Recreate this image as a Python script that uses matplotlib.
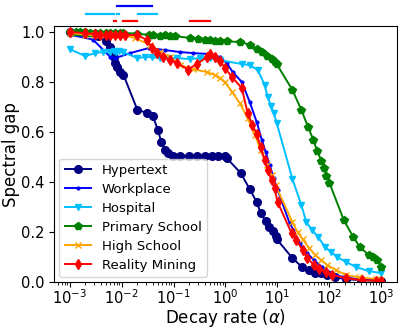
import matplotlib
matplotlib.use('Agg')
import matplotlib.pyplot as plt
import numpy as np

# spectral gap vs decay rate, one curve per dataset
hyper_x = [0.001, 0.002, 0.0035, 0.005, 0.0061, 0.007, 0.0076, 0.0083, 0.0095, 0.0108, 0.02, 0.031, 0.04, 0.05,
           0.058, 0.069, 0.079, 0.098, 0.134, 0.2, 0.28, 0.4, 0.55, 0.71, 0.97, 1.06, 1.97, 2.93, 4.0, 4.76, 5.9,
           6.8, 8.1, 9.2, 9.7, 19.5, 30, 41, 54, 70, 92, 130, 212, 400, 1000]
hyper_y = [1.0, 0.995, 0.985, 0.965, 0.94, 0.9, 0.876, 0.86, 0.84, 0.83, 0.69, 0.676, 0.664, 0.608,
           0.56, 0.528, 0.516, 0.504, 0.506, 0.506, 0.506, 0.506, 0.505, 0.505, 0.503, 0.496, 0.436, 0.372, 0.32,
           0.276, 0.244, 0.22, 0.204, 0.184, 0.172, 0.096, 0.06, 0.048, 0.036, 0.036, 0.03, 0.02, 0.012, 0.008, 0.005]

work_x = [0.001, 0.0028, 0.0061, 0.0076, 0.0147, 0.033, 0.069, 0.134, 0.237, 0.5, 0.78, 1.06, 1.38, 2.07,
          2.93, 4.0, 5.0, 5.95, 7.1, 8.5, 10.1, 17.2, 20.4, 26.8, 37, 51, 73, 113, 178, 370, 1000]
work_y = [0.99, 0.97, 0.9, 0.896, 0.916, 0.936, 0.928, 0.92, 0.916, 0.912, 0.9, 0.876, 0.84, 0.8,
          0.72, 0.64, 0.57, 0.52, 0.468, 0.416, 0.368, 0.236, 0.208, 0.156, 0.116, 0.088, 0.06, 0.036, 0.02,
          0.012, 0.008]

hosp_x = [0.001, 0.002, 0.0031, 0.0043, 0.0061, 0.007, 0.0079, 0.009, 0.0108, 0.02, 0.0285, 0.039, 0.055,
          0.079, 0.117, 0.208, 0.32, 0.5, 0.78, 2.07, 2.93, 4.2, 5.65, 6.5, 7.6, 8.5, 9.7, 19.5, 29, 36, 47, 61,
          83, 108, 143, 212, 330, 580, 1000]
hosp_y = [0.932, 0.904, 0.916, 0.92, 0.92, 0.924, 0.92, 0.924, 0.92, 0.896, 0.9, 0.9, 0.896,
          0.896, 0.896, 0.892, 0.896, 0.896, 0.888, 0.872, 0.868, 0.848, 0.79, 0.74, 0.704, 0.676, 0.636, 0.412,
          0.308, 0.24, 0.208, 0.18, 0.14, 0.12, 0.1, 0.08, 0.06, 0.044, 0.036]

prim_x = [0.001, 0.0013, 0.0016, 0.002, 0.0025, 0.0031, 0.0039, 0.0049, 0.0061, 0.0076, 0.0095, 0.0108,
          0.02, 0.033, 0.04, 0.055, 0.069, 0.086, 0.107, 0.208, 0.3, 0.4, 0.5, 0.63, 0.78, 1.06, 1.88, 2.93,
          4.0, 5.0, 6.2, 7.7, 8.8, 9.7, 19.5, 29, 39, 49, 58, 70, 80, 87, 100, 190, 290, 390, 580, 700, 830, 1000]
prim_y = [1.0, 1.0, 1.0, 1.0, 0.998, 0.998, 0.998, 0.997, 0.997, 0.997, 0.996, 0.996,
          0.994, 0.988, 0.99, 0.984, 0.988, 0.986, 0.984, 0.976, 0.974, 0.968, 0.968, 0.966, 0.966, 0.963,
          0.96, 0.95, 0.934, 0.92, 0.906, 0.892, 0.88, 0.872, 0.768, 0.688, 0.62, 0.57, 0.526, 0.486, 0.455,
          0.426, 0.398, 0.248, 0.18, 0.14, 0.108, 0.1, 0.088, 0.06]

high_x = [0.001, 0.002, 0.0029, 0.0036, 0.0045, 0.0056, 0.007, 0.0087, 0.0108, 0.0184, 0.0357, 0.055,
          0.086, 0.134, 0.237, 0.44, 0.63, 0.78, 0.97, 1.33, 1.88, 2.67, 3.7, 4.76, 6.2, 7.7, 9.2, 19.5, 24.5,
          30.5, 41, 54, 70, 92, 135, 212, 370, 790, 1000]
high_y = [0.996, 0.99, 0.988, 0.988, 0.988, 0.988, 0.988, 0.988, 0.986, 0.976, 0.948, 0.92,
          0.9, 0.868, 0.852, 0.84, 0.828, 0.816, 0.8, 0.762, 0.716, 0.656, 0.588, 0.528, 0.468, 0.428, 0.388,
          0.24, 0.2, 0.172, 0.136, 0.108, 0.088, 0.068, 0.048, 0.028, 0.02, 0.012, 0.01]

real_x = [0.001, 0.002, 0.0031, 0.0039, 0.0049, 0.0061, 0.0076, 0.0095, 0.0118, 0.02, 0.031, 0.039, 0.048,
          0.063, 0.086, 0.117, 0.19, 0.28, 0.44, 0.5, 0.63, 0.78, 0.97, 1.33, 2.07, 2.67, 3.3, 4.0, 4.76, 5.65,
          6.5, 7.7, 8.8, 10.1, 18.7, 23.3, 30.5, 37.5, 51, 64, 87, 113, 212, 420, 790, 1000]
real_y = [1.0, 0.996, 0.992, 0.988, 0.99, 0.988, 0.99, 0.988, 0.988, 0.988, 0.968, 0.936, 0.916,
          0.9, 0.888, 0.876, 0.85, 0.872, 0.9, 0.912, 0.9, 0.884, 0.858, 0.82, 0.776, 0.676, 0.628, 0.592,
          0.54, 0.49, 0.448, 0.408, 0.376, 0.32, 0.196, 0.168, 0.128, 0.096, 0.068, 0.052, 0.04, 0.028, 0.016,
          0.008, 0.006, 0.005]

# ranges marked above the axes: (level, start, end)
blue_marks = [(1.104, 0.0083, 0.039)]
cyan_marks = [(1.072, 0.0021, 0.0072), (1.072, 0.008, 0.0088), (1.072, 0.021, 0.048)]
red_marks = [(1.044, 0.0071, 0.0077), (1.044, 0.0104, 0.020), (1.044, 0.208, 0.5)]

fig, ax = plt.subplots(figsize=(4.07, 3.3), dpi=100)
fig.subplots_adjust(left=0.133, right=0.975, bottom=0.145, top=0.921)

ax.plot(hyper_x, hyper_y, color='navy', marker='o', ms=5.5, lw=1.4, label='Hypertext')
ax.plot(work_x, work_y, color='blue', marker='.', ms=4, lw=1.4, label='Workplace')
ax.plot(hosp_x, hosp_y, color='deepskyblue', marker='v', ms=5, lw=1.4, label='Hospital')
ax.plot(prim_x, prim_y, color='green', marker='p', ms=5.5, lw=1.4, label='Primary School')
ax.plot(high_x, high_y, color='orange', marker='x', ms=4, lw=1.4, label='High School')
ax.plot(real_x, real_y, color='red', marker='d', ms=5.5, lw=1.4, label='Reality Mining')

for marks, c in [(blue_marks, 'blue'), (cyan_marks, 'deepskyblue'), (red_marks, 'red')]:
    for lev, a, b in marks:
        ax.plot([a, b], [lev, lev], color=c, lw=1.6, clip_on=False)

ax.set_xscale('log')
ax.set_xlim(10**-3.3, 10**3.3)
ax.set_ylim(0, 1.024)
ax.set_xlabel(r'Decay rate ($\alpha$)', fontsize=12, labelpad=0)
ax.set_ylabel('Spectral gap', fontsize=12, labelpad=1)
ax.tick_params(labelsize=10.5)
ax.tick_params(axis='x', pad=1)
ax.set_xticks([1e-3, 1e-2, 1e-1, 1e0, 1e1, 1e2, 1e3])
ax.legend(loc='lower left', fontsize=9.5, handlelength=2.0, labelspacing=0.45, borderaxespad=0.4)

plt.savefig('out.png', dpi=100)
